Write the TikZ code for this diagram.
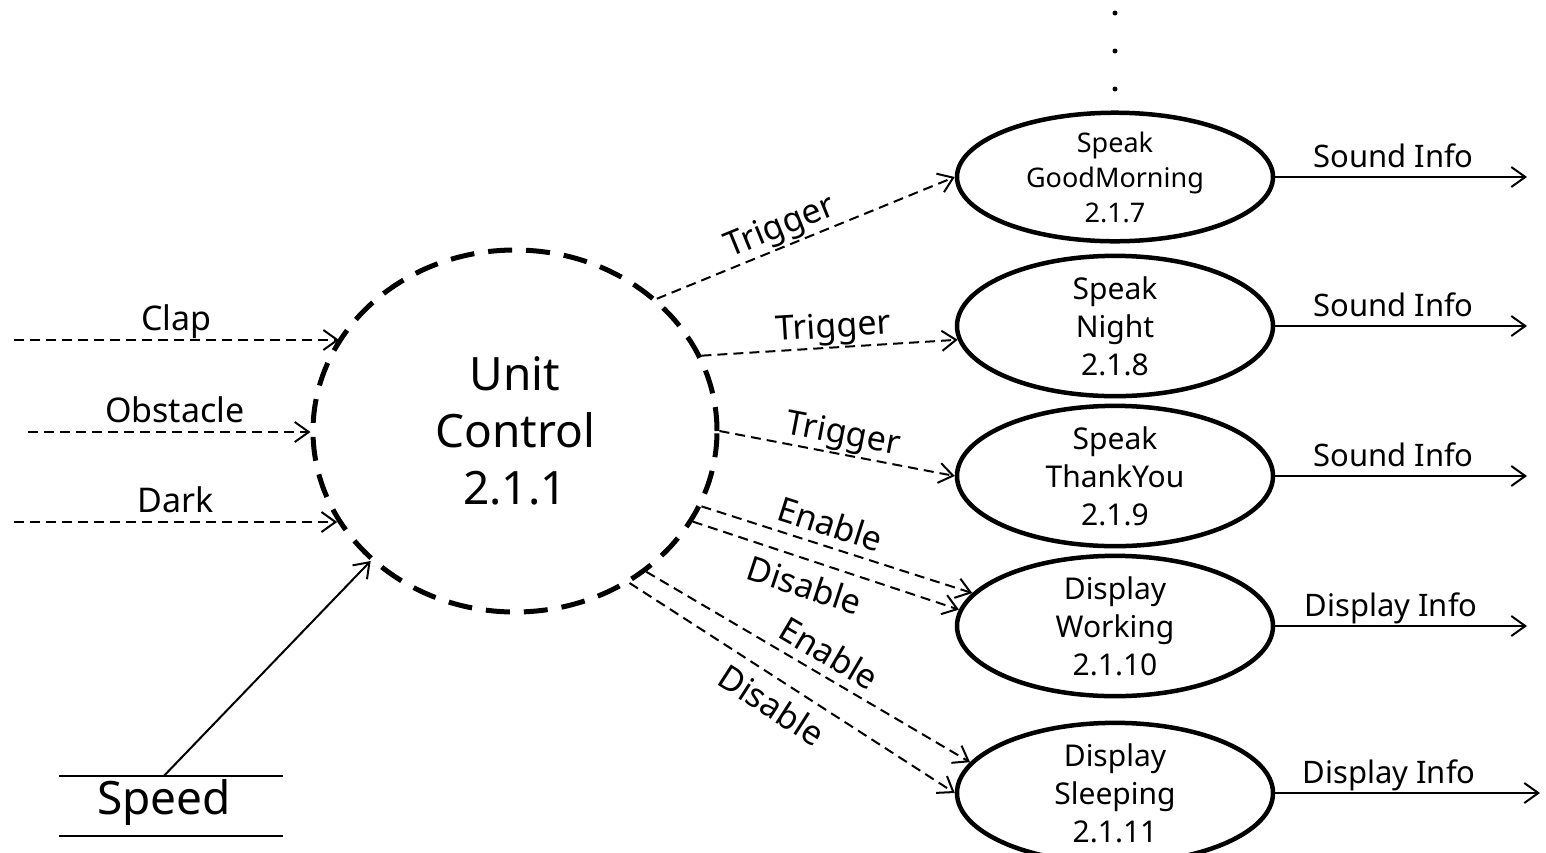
\documentclass[tikz,border=0pt]{standalone}
\usepackage{fontspec}
\setmainfont{Noto Sans}
\usetikzlibrary{arrows.meta,shapes.geometric}

\tikzset{
  flow/.style={line width=2pt, -{Straight Barb[length=14pt,width=20pt]}},
  dflow/.style={flow, dash pattern=on 10pt off 6pt},
  lab/.style={font=\fontsize{34}{40}\selectfont, sloped, anchor=south,
              inner xsep=0pt, inner ysep=9pt, text depth=0pt},
  labb/.style={font=\fontsize{34}{40}\selectfont, sloped, anchor=north,
               inner xsep=0pt, inner ysep=11pt, text depth=0pt},
  labo/.style={lab, font=\fontsize{31}{38}\selectfont},
  proc/.style={draw, ellipse, line width=4.5pt, minimum width=316pt,
               minimum height=118pt, inner sep=0pt, align=center,
               font=\fontsize{30}{38}\selectfont},
}

\begin{document}
\begin{tikzpicture}[x=1pt, y=-1pt]
\useasboundingbox (0,0) rectangle (1546,852);

% central control process
\node[draw, ellipse, line width=5pt, dash pattern=on 24pt off 14pt,
      minimum width=404pt, minimum height=362pt, inner sep=0pt, align=center,
      font=\fontsize{46}{57}\selectfont] (uc) at (515,431) {Unit\\Control\\2.1.1};

% data store
\node[minimum width=224pt, minimum height=60pt, inner sep=0pt] (store) at (171,806) {};
\draw[line width=1.5pt] (store.north west) -- (store.north east)
                        (store.south west) -- (store.south east);
\node[font=\fontsize{46}{50}\selectfont, inner sep=0pt] (spd) at (164,803) {Speed};

% sub-processes
\node[proc, font=\fontsize{27}{35}\selectfont] (e1) at (1115,177) {Speak\\GoodMorning\\2.1.7};
\node[proc] (e2) at (1115,326) {Speak\\Night\\2.1.8};
\node[proc] (e3) at (1115,476) {Speak\\ThankYou\\2.1.9};
\node[proc] (e4) at (1115,626) {Display\\Working\\2.1.10};
\node[proc] (e5) at (1115,793) {Display\\Sleeping\\2.1.11};

% continuation dots
\fill (1115,13) circle (2.5pt) (1115,51) circle (2.5pt) (1115,89) circle (2.5pt);

% incoming events
\coordinate (cS) at (14,340);
\coordinate (oS) at (28,432);
\coordinate (dS) at (14,522);
\draw[dflow] (cS) -- (cS -| uc.152.5) node[lab, pos=0.5] {Clap};
\draw[dflow] (oS) -- (oS -| uc.west) node[lab, pos=0.52] {Obstacle};
\draw[dflow] (dS) -- (dS -| uc.207.4) node[lab, pos=0.5] {Dark};
\draw[flow] (spd |- store.north) -- (uc.222);

% control flows to sub-processes
\draw[dflow] (uc.43.3) -- (e1.west) node[lab, pos=0.44] {Trigger};
\draw[dflow] (uc.22.1) -- (e2.185.8) node[lab, pos=0.52] {Trigger};
\draw[dflow] (uc.-0.3) -- (e3.west) node[lab, pos=0.51] {Trigger};
\draw[dflow] (uc.-22.1) -- (e4.167.2) node[lab, pos=0.45] {Enable};
\draw[dflow] (uc.-27.5) -- (e4.174.3) node[labb, pos=0.45] {Disable};
\draw[dflow] (uc.-47.8) -- (e5.168.3) node[lab, pos=0.53] {Enable};
\draw[dflow] (uc.-53.4) -- (e5.west) node[labb, pos=0.48] {Disable};

% outputs
\coordinate (o1) at (1527,177);
\coordinate (o2) at (1527,326);
\coordinate (o3) at (1527,476);
\coordinate (o4) at (1527,626);
\coordinate (o5) at (1540,793);
\draw[flow] (e1.east) -- (o1) node[labo, pos=0.47] {Sound Info};
\draw[flow] (e2.east) -- (o2) node[labo, pos=0.47] {Sound Info};
\draw[flow] (e3.east) -- (o3) node[labo, pos=0.47] {Sound Info};
\draw[flow] (e4.east) -- (o4) node[labo, pos=0.46] {Display Info};
\draw[flow] (e5.east) -- (o5) node[labo, pos=0.43] {Display Info};
\end{tikzpicture}
\end{document}
